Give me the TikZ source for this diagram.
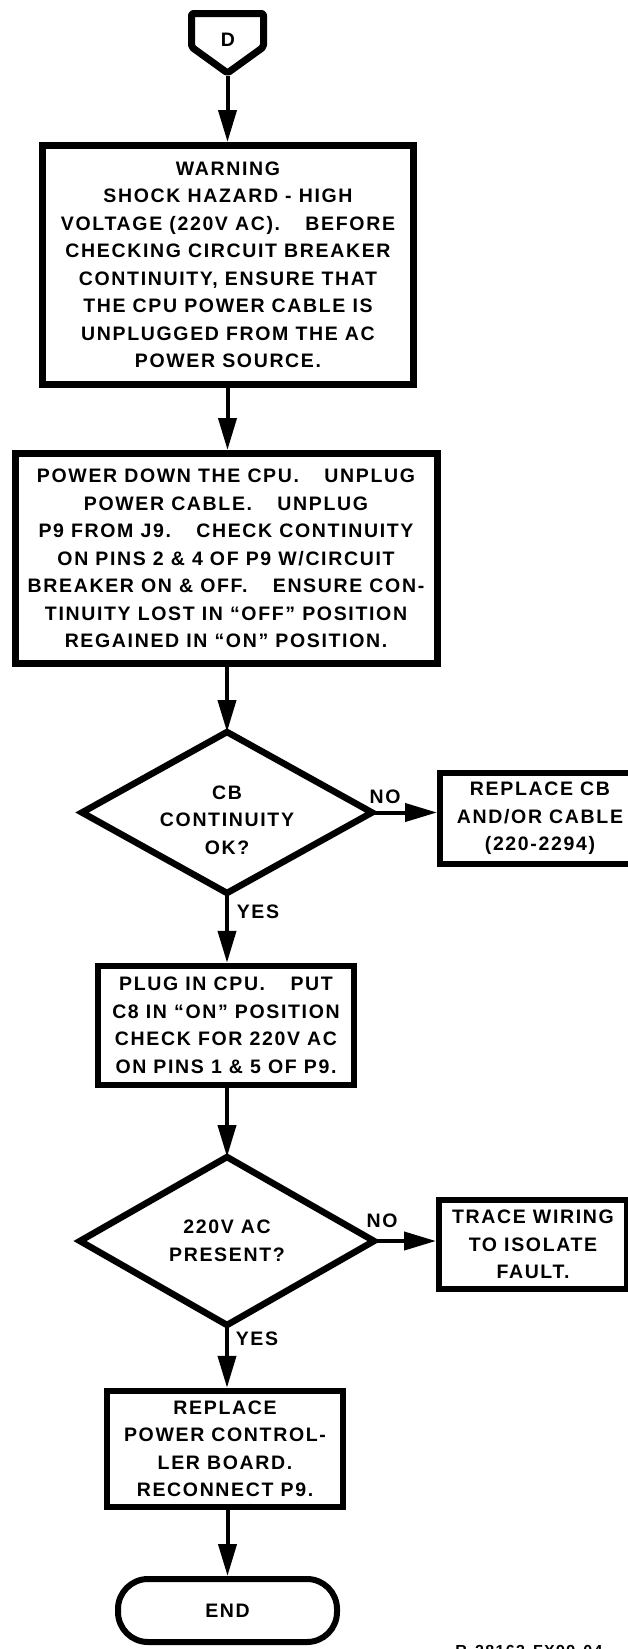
\documentclass[tikz,border=0pt]{standalone}
\usepackage{fontspec}
\newfontfamily\lblfont[LetterSpace=8.5]{Liberation Sans}
\usetikzlibrary{arrows.meta,shapes.geometric}
\newcommand\bigsp{\hspace{1.3em}}
\begin{document}
\begin{tikzpicture}[x=1pt,y=-1pt,
  txt/.style={font={\lblfont\bfseries\fontsize{19.5}{27.5}\selectfont}, align=center, inner sep=0pt},
  box/.style={txt, draw, rectangle, line width=7pt},
  dia/.style={draw, diamond, line width=6.5pt, inner sep=0pt, outer sep=0pt},
  term/.style={txt, draw, rectangle, rounded corners=30pt, line width=6pt},
  flow/.style={line width=4pt, -{Triangle[length=32pt,width=18pt]}},
  lab/.style={txt}
]
\useasboundingbox[fill=white] (0,0) rectangle (627,1649);

% start connector
\draw[line width=7pt, line join=round, rounded corners=2pt]
  (191.5,13.5) -- (263.5,13.5) -- (263.5,47) -- (227.5,73) -- (191.5,47) -- cycle;
\node[txt] (D) at (228,40) {D};
\coordinate (Dtip) at (227.5,76);

\node[box, minimum width=371pt, minimum height=239pt] (b1) at (228,265)
  {WARNING\\SHOCK HAZARD - HIGH\\VOLTAGE (220V AC).\bigsp BEFORE\\CHECKING CIRCUIT BREAKER\\CONTINUITY, ENSURE THAT\\THE CPU POWER CABLE IS\\UNPLUGGED FROM THE AC\\POWER SOURCE.};

\node[box, minimum width=422pt, minimum height=210pt] (b2) at (226,558.5)
  {POWER DOWN THE CPU.\bigsp UNPLUG\\POWER CABLE.\bigsp UNPLUG\\P9 FROM J9.\bigsp CHECK CONTINUITY\\ON PINS 2 \& 4 OF P9 W/CIRCUIT\\BREAKER ON \& OFF.\bigsp ENSURE CON-\\TINUITY LOST IN “OFF” POSITION\\REGAINED IN “ON” POSITION.};

\node[dia, minimum width=290pt, minimum height=161pt] (q1) at (227,812.5) {};
\node[txt] (q1t) at (227,820) {CB\\CONTINUITY\\OK?};

\node[box, line width=6pt, minimum width=200pt, minimum height=91pt] (b3) at (540,818.5)
  {REPLACE CB\\AND/OR CABLE\\(220-2294)};

\node[box, line width=6.5pt, minimum width=256pt, minimum height=119pt] (b4) at (226,1025.5)
  {PLUG IN CPU.\bigsp PUT\\C8 IN “ON” POSITION\\CHECK FOR 220V AC\\ON PINS 1 \& 5 OF P9.};

\node[dia, minimum width=294pt, minimum height=168pt] (q2) at (227,1241) {};
\node[txt] (q2t) at (227,1241) {220V AC\\PRESENT?};

\node[box, line width=6pt, minimum width=188pt, minimum height=89pt] (b5) at (533,1244.5)
  {TRACE WIRING\\TO ISOLATE\\FAULT.};

\node[box, line width=6.5pt, minimum width=236pt, minimum height=116pt] (b6) at (225,1449)
  {REPLACE\\POWER CONTROL-\\LER BOARD.\\RECONNECT P9.};

\node[term, minimum width=219pt, minimum height=63pt] (end) at (227.5,1610.5) {END};

\node[lab] (no1) at (385,797) {NO};
\node[lab] (yes1) at (258,912) {YES};
\node[lab] (no2) at (382,1221) {NO};
\node[lab] (yes2) at (257,1339) {YES};

\node[font={\lblfont\bfseries\fontsize{16}{18}\selectfont}, inner sep=0pt, anchor=north] (ref) at (529,1645) {R-28163-FX99-04};

% connectors
\draw[flow] (Dtip) -- (Dtip |- b1.north);
\draw[flow] (b1.south -| Dtip) -- (Dtip |- b2.north);
\draw[flow] (b2.south -| q1.north) -- (q1.north);
\draw[flow] (q1.south) -- (q1.south |- b4.north);
\draw[flow] (b4.south -| q2.north) -- (q2.north);
\draw[flow] (q2.south) -- (q2.south |- b6.north);
\draw[flow] (b6.south -| end.north) -- (end.north);
\draw[flow] (q1.east) -- (q1.east -| b3.west);
\draw[flow] (q2.east) -- (q2.east -| b5.west);
\end{tikzpicture}
\end{document}
